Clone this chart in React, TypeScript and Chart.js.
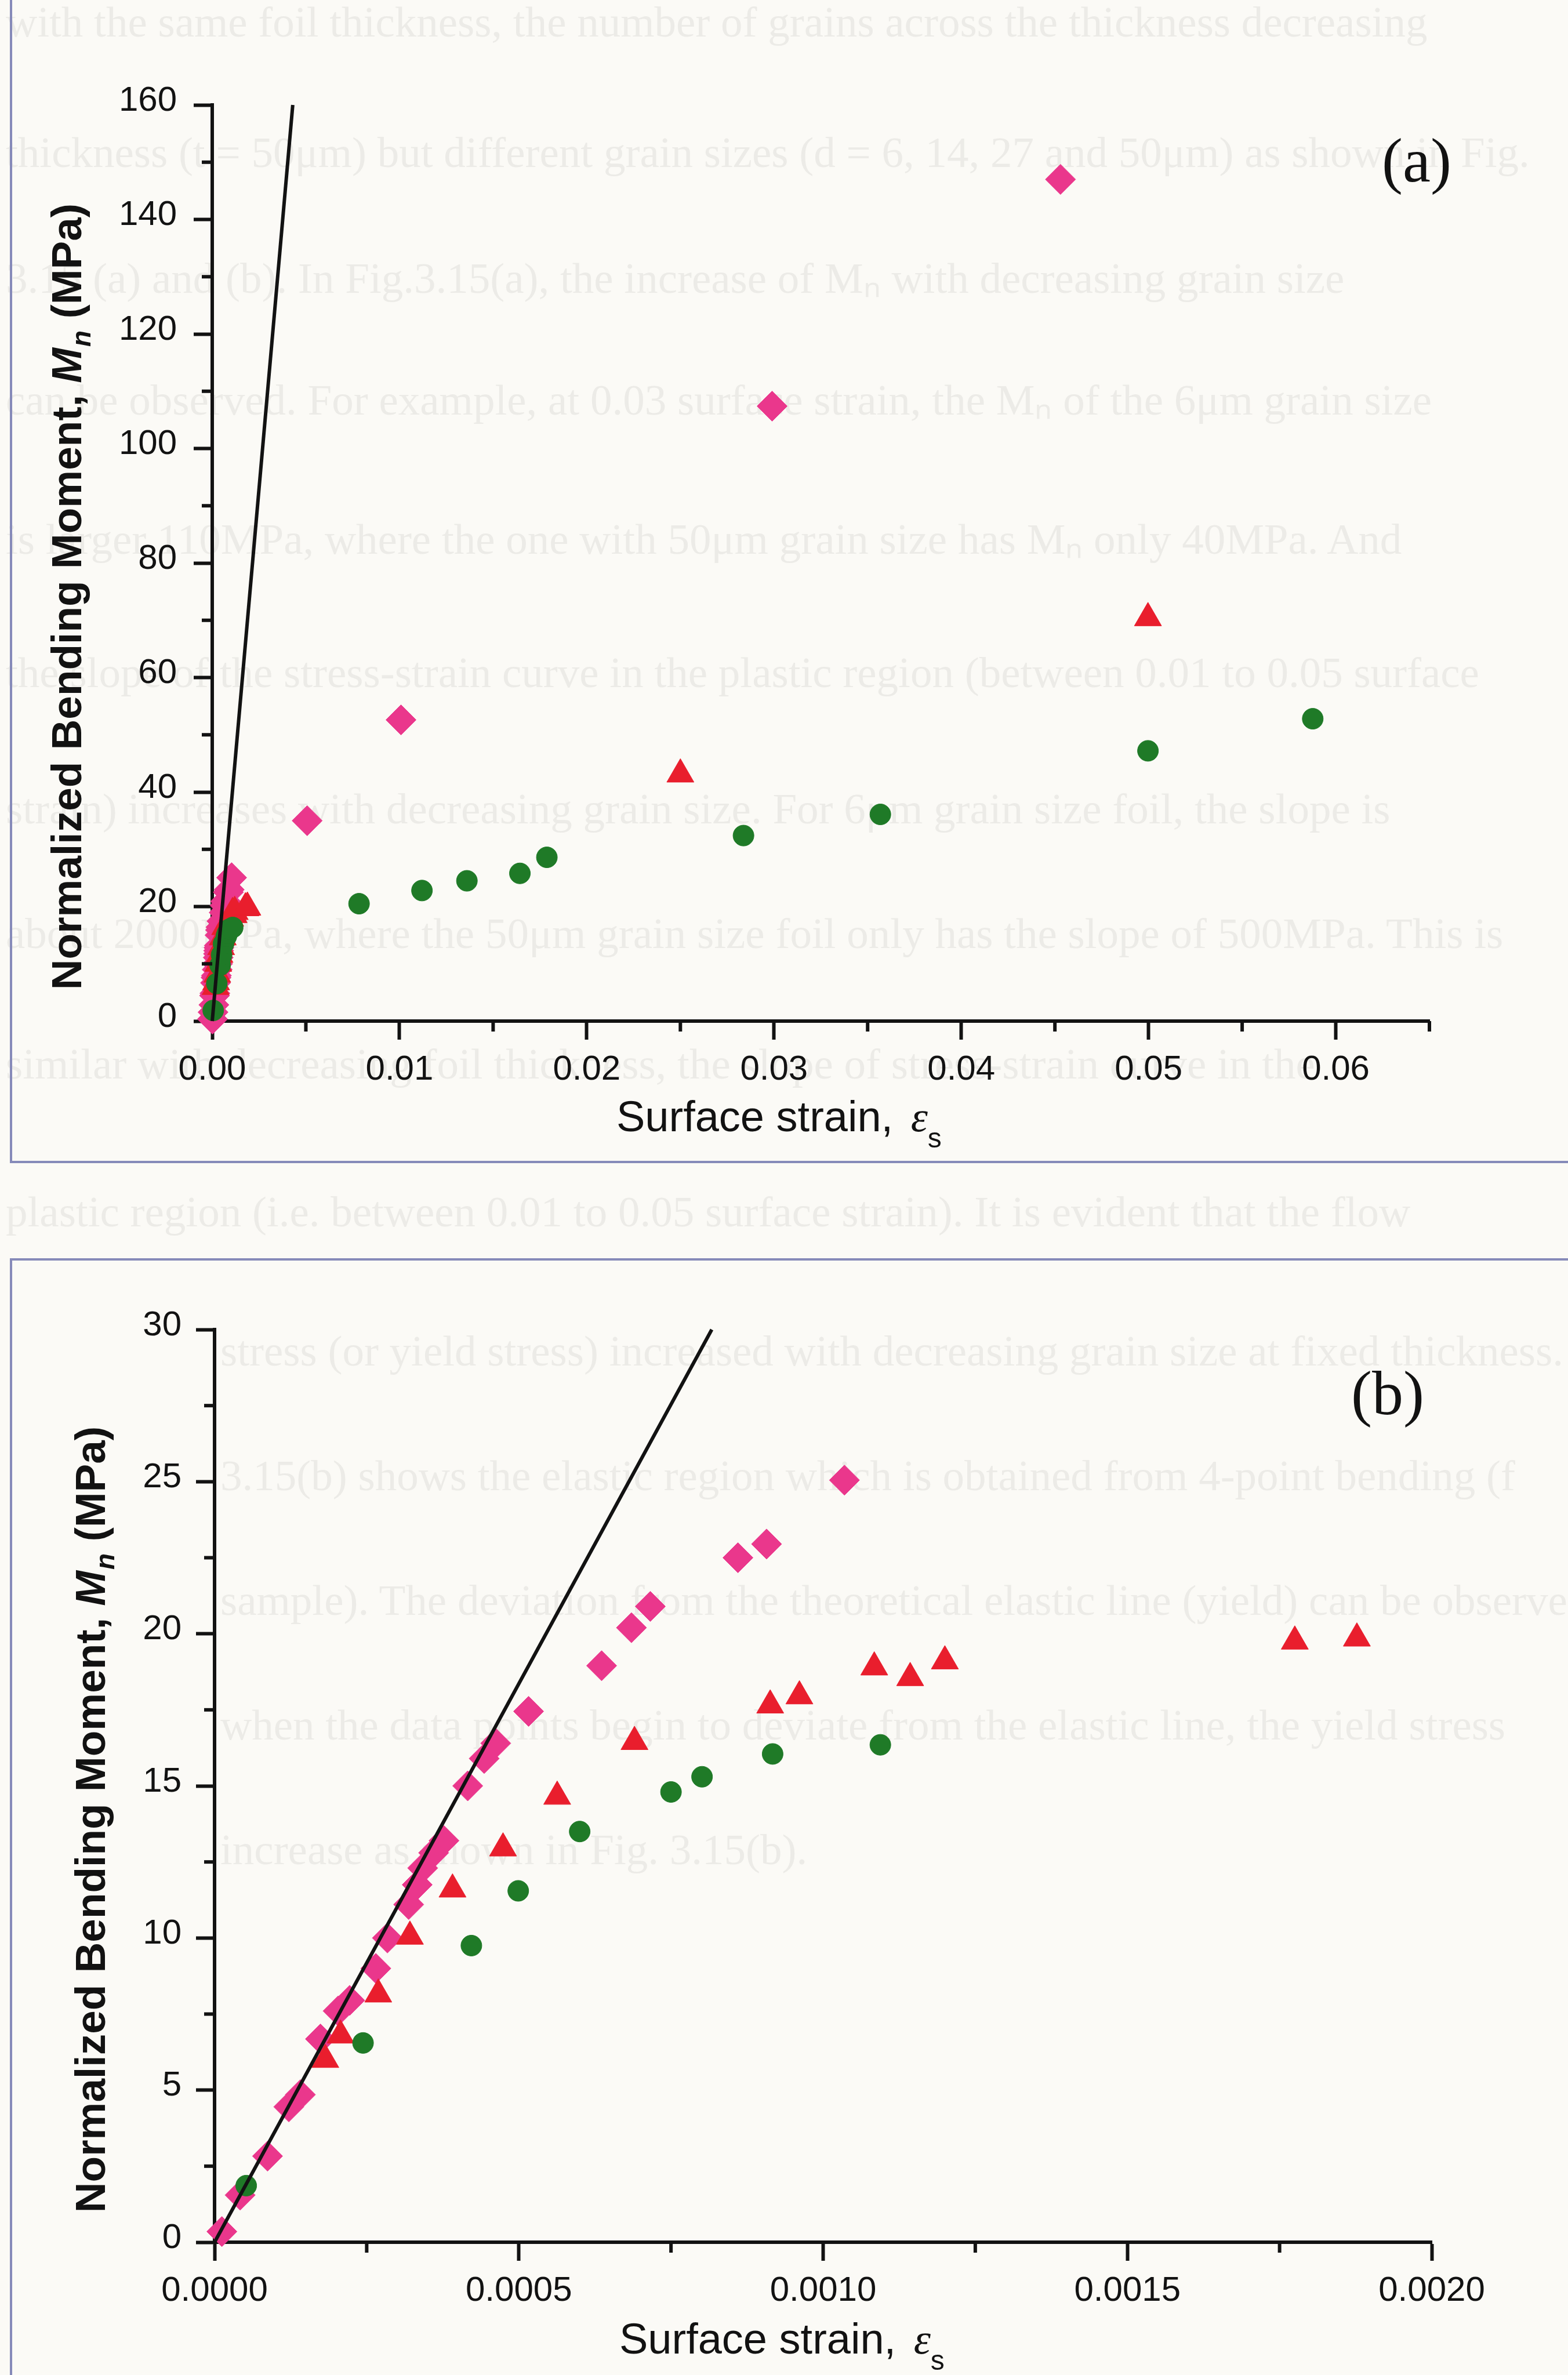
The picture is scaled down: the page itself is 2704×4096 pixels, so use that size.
import React, { useEffect, useRef } from 'react';
import { Chart, registerables } from 'chart.js';

Chart.register(...registerables);

// ---------------- data ----------------
// Panel (b) – small-strain data (also the low-strain part of panel (a))
const PINK_STRAIN_B = [0.000012, 0.000042, 0.000087, 0.000122, 0.000141, 0.000174, 0.000203, 0.000222, 0.000265, 0.000284, 0.000319, 0.000333, 0.000342, 0.00036, 0.000377, 0.000416, 0.000443, 0.000462, 0.000516, 0.000636, 0.000685, 0.000716, 0.00086, 0.000907, 0.001035];
const PINK_MOMENT_B = [0.35, 1.55, 2.83, 4.45, 4.85, 6.68, 7.6, 7.95, 9.0, 10.0, 11.1, 11.75, 12.3, 12.8, 13.2, 15.0, 15.9, 16.4, 17.45, 18.95, 20.2, 20.9, 22.5, 22.95, 25.05];

const RED_STRAIN_B = [0.000182, 0.000207, 0.000269, 0.000321, 0.000391, 0.000474, 0.000563, 0.00069, 0.000913, 0.000961, 0.001084, 0.001143, 0.0012, 0.001775, 0.001877];
const RED_MOMENT_B = [6.0, 6.8, 8.15, 10.05, 11.6, 12.95, 14.65, 16.45, 17.65, 17.95, 18.9, 18.55, 19.1, 19.75, 19.85];

const GREEN_STRAIN_B = [0.000052, 0.000244, 0.000422, 0.000499, 0.0006, 0.00075, 0.000801, 0.000917, 0.001094];
const GREEN_MOMENT_B = [1.86, 6.55, 9.75, 11.55, 13.5, 14.8, 15.3, 16.05, 16.35];

// Panel (a) – additional large-strain data
const PINK_STRAIN_A_EXTRA = [0.00507, 0.01008, 0.0299, 0.0453];
const PINK_MOMENT_A_EXTRA = [35.0, 52.6, 107.4, 147.0];
const RED_STRAIN_A_EXTRA = [0.025, 0.04997];
const RED_MOMENT_A_EXTRA = [43.1, 70.4];
const GREEN_STRAIN_A_EXTRA = [0.00784, 0.0112, 0.0136, 0.01643, 0.01787, 0.02837, 0.03568, 0.04997, 0.05877];
const GREEN_MOMENT_A_EXTRA = [20.5, 22.8, 24.5, 25.8, 28.6, 32.4, 36.1, 47.2, 52.8];

// Elastic lines
const ELASTIC_STRAIN_A = [0, 0.0043];
const ELASTIC_MOMENT_A = [0, 160];
const ELASTIC_STRAIN_B = [0, 0.000817];
const ELASTIC_MOMENT_B = [0, 30];

// Ticks
const X_TICKS_A = [0, 0.01, 0.02, 0.03, 0.04, 0.05, 0.06];
const X_LABELS_A = ['0.00', '0.01', '0.02', '0.03', '0.04', '0.05', '0.06'];
const X_MINOR_A = [0.005, 0.015, 0.025, 0.035, 0.045, 0.055, 0.065];
const Y_TICKS_A = [0, 20, 40, 60, 80, 100, 120, 140, 160];
const Y_LABELS_A = ['0', '20', '40', '60', '80', '100', '120', '140', '160'];
const Y_MINOR_A = [10, 30, 50, 70, 90, 110, 130, 150];

const X_TICKS_B = [0, 0.0005, 0.001, 0.0015, 0.002];
const X_LABELS_B = ['0.0000', '0.0005', '0.0010', '0.0015', '0.0020'];
const X_MINOR_B = [0.00025, 0.00075, 0.00125, 0.00175];
const Y_TICKS_B = [0, 5, 10, 15, 20, 25, 30];
const Y_LABELS_B = ['0', '5', '10', '15', '20', '25', '30'];
const Y_MINOR_B = [2.5, 7.5, 12.5, 17.5, 22.5, 27.5];

// Faint show-through text of the scanned page
const BLEED_LINES_A = [
  'with the same foil thickness, the number of grains across the thickness decreasing',
  'thickness (t = 50μm) but different grain sizes (d = 6, 14, 27 and 50μm) as shown in Fig.',
  '3.15 (a) and (b). In Fig.3.15(a), the increase of Mₙ with decreasing grain size',
  'can be observed. For example, at 0.03 surface strain, the Mₙ of the 6μm grain size',
  'is larger 110MPa, where the one with 50μm grain size has Mₙ only 40MPa. And',
  'the slope of the stress-strain curve in the plastic region (between 0.01 to 0.05 surface',
  'strain) increases with decreasing grain size. For 6μm grain size foil, the slope is',
  'about 2000MPa, where the 50μm grain size foil only has the slope of 500MPa. This is',
  'similar with decreasing foil thickness, the slope of stress-strain curve in the',
  'plastic region (i.e. between 0.01 to 0.05 surface strain). It is evident that the flow',
];
const BLEED_LINES_B = [
  'stress (or yield stress) increased with decreasing grain size at fixed thickness. Fig.',
  '3.15(b) shows the elastic region which is obtained from 4-point bending (f',
  'sample). The deviation from the theoretical elastic line (yield) can be observed',
  'when the data points begin to deviate from the elastic line, the yield stress',
  'increase as shown in Fig. 3.15(b).',
];

// ---------------- style ----------------
const W = 2704;
const H = 4096;
const BG = '#fbfaf6';
const PINK = '#ea378c';
const RED = '#e91e2d';
const GREEN = '#1f7a27';
const INK = '#121212';
const AXIS_W = 6;
const MAJOR_LEN = 32;
const MINOR_LEN = 18;
const SANS = "'Liberation Sans', Arial, Helvetica, sans-serif";
const SERIF = "'Liberation Serif', 'Times New Roman', serif";
const TICK_FONT_SIZE = 60;

type Run = { text: string; font: string; dy?: number; dx?: number };

const X_TITLE_RUNS: Run[] = [
  { text: 'Surface strain, ', font: `400 74px ${SANS}` },
  { text: 'ε', font: `italic 400 74px ${SERIF}`, dx: 10 },
  { text: 's', font: `400 48px ${SANS}`, dy: 28, dx: 0 },
];
const Y_TITLE_RUNS: Run[] = [
  { text: 'Normalized Bending Moment, ', font: `700 73px ${SANS}` },
  { text: 'M', font: `italic 700 73px ${SANS}` },
  { text: 'n', font: `italic 700 46px ${SANS}`, dy: 16, dx: 2 },
  { text: ' (MPa)', font: `700 73px ${SANS}` },
];

const pts = (xs: number[], ys: number[]) => xs.map((x, i) => ({ x, y: ys[i] }));

type Panel = {
  canvasH: number;
  area: { left: number; right: number; top: number; bottom: number };
  xMax: number;
  yMax: number;
  xTicks: number[];
  xLabels: string[];
  xMinor: number[];
  yTicks: number[];
  yLabels: string[];
  yMinor: number[];
  yLabelPad: number;
  pink: { x: number; y: number }[];
  red: { x: number; y: number }[];
  green: { x: number; y: number }[];
  line: { x: number; y: number }[];
  xTitle: { x: number; y: number };
  yTitle: { x: number; y: number };
  tag: { text: string; x: number; y: number };
};

const PANEL_A: Panel = {
  canvasH: 2100,
  area: { left: 366, right: 2465, top: 181, bottom: 1761 },
  xMax: 0.065,
  yMax: 160,
  xTicks: X_TICKS_A,
  xLabels: X_LABELS_A,
  xMinor: X_MINOR_A,
  yTicks: Y_TICKS_A,
  yLabels: Y_LABELS_A,
  yMinor: Y_MINOR_A,
  yLabelPad: 29,
  pink: pts(PINK_STRAIN_B.concat(PINK_STRAIN_A_EXTRA), PINK_MOMENT_B.concat(PINK_MOMENT_A_EXTRA)),
  red: pts(RED_STRAIN_B.concat(RED_STRAIN_A_EXTRA), RED_MOMENT_B.concat(RED_MOMENT_A_EXTRA)),
  green: pts(GREEN_STRAIN_B.concat(GREEN_STRAIN_A_EXTRA), GREEN_MOMENT_B.concat(GREEN_MOMENT_A_EXTRA)),
  line: pts(ELASTIC_STRAIN_A, ELASTIC_MOMENT_A),
  xTitle: { x: 1063, y: 1951 },
  yTitle: { x: 140, y: 1029 },
  tag: { text: '(a)', x: 2443, y: 313 },
};

const B_TOP = 2100;
const PANEL_B: Panel = {
  canvasH: H - B_TOP,
  area: { left: 370, right: 2469, top: 2293 - B_TOP, bottom: 3867 - B_TOP },
  xMax: 0.002,
  yMax: 30,
  xTicks: X_TICKS_B,
  xLabels: X_LABELS_B,
  xMinor: X_MINOR_B,
  yTicks: Y_TICKS_B,
  yLabels: Y_LABELS_B,
  yMinor: Y_MINOR_B,
  yLabelPad: 25,
  pink: pts(PINK_STRAIN_B, PINK_MOMENT_B),
  red: pts(RED_STRAIN_B, RED_MOMENT_B),
  green: pts(GREEN_STRAIN_B, GREEN_MOMENT_B),
  line: pts(ELASTIC_STRAIN_B, ELASTIC_MOMENT_B),
  xTitle: { x: 1068, y: 4059 - B_TOP },
  yTitle: { x: 181, y: 3138 - B_TOP },
  tag: { text: '(b)', x: 2393, y: 2439 - B_TOP },
};

function runsWidth(ctx: CanvasRenderingContext2D, runs: Run[]) {
  let w = 0;
  for (const r of runs) {
    ctx.font = r.font;
    w += ctx.measureText(r.text).width + (r.dx || 0);
  }
  return w;
}

function drawRuns(ctx: CanvasRenderingContext2D, runs: Run[], x: number, y: number) {
  let cx = x;
  for (const r of runs) {
    ctx.font = r.font;
    cx += r.dx || 0;
    ctx.fillText(r.text, cx, y + (r.dy || 0));
    cx += ctx.measureText(r.text).width;
  }
}

function makeDecor(p: Panel) {
  return {
    id: 'decor',
    afterDraw(chart: any) {
      const ctx: CanvasRenderingContext2D = chart.ctx;
      const xs = chart.scales.x;
      const ys = chart.scales.y;
      const { left, bottom } = chart.chartArea;
      ctx.save();
      ctx.strokeStyle = INK;
      ctx.lineWidth = AXIS_W;
      ctx.lineCap = 'butt';
      for (const v of p.xMinor) {
        const px = xs.getPixelForValue(v);
        ctx.beginPath();
        ctx.moveTo(px, bottom);
        ctx.lineTo(px, bottom + MINOR_LEN);
        ctx.stroke();
      }
      for (const v of p.yMinor) {
        const py = ys.getPixelForValue(v);
        ctx.beginPath();
        ctx.moveTo(left, py);
        ctx.lineTo(left - MINOR_LEN, py);
        ctx.stroke();
      }
      ctx.fillStyle = INK;
      ctx.textBaseline = 'alphabetic';
      ctx.textAlign = 'left';
      drawRuns(ctx, X_TITLE_RUNS, p.xTitle.x, p.xTitle.y);
      ctx.save();
      ctx.translate(p.yTitle.x, p.yTitle.y);
      ctx.rotate(-Math.PI / 2);
      const w = runsWidth(ctx, Y_TITLE_RUNS);
      drawRuns(ctx, Y_TITLE_RUNS, -w / 2, 0);
      ctx.restore();
      ctx.font = `400 108px ${SERIF}`;
      ctx.textAlign = 'center';
      ctx.fillText(p.tag.text, p.tag.x, p.tag.y);
      ctx.restore();
    },
  };
}

function buildConfig(p: Panel): any {
  const scatterBase = { showLine: false, clip: false, borderWidth: 1 };
  return {
    type: 'scatter',
    data: {
      datasets: [
        {
          label: 'elastic',
          data: p.line,
          showLine: true,
          pointRadius: 0,
          borderColor: INK,
          borderWidth: 6,
          clip: false,
          order: 0,
        },
        { ...scatterBase, label: 'green', data: p.green, pointStyle: 'circle', pointRadius: 18, pointHoverRadius: 18, backgroundColor: GREEN, borderColor: GREEN, order: 1 },
        { ...scatterBase, label: 'red', data: p.red, pointStyle: 'triangle', pointRadius: 27, pointHoverRadius: 27, backgroundColor: RED, borderColor: RED, order: 2 },
        { ...scatterBase, label: 'pink', data: p.pink, pointStyle: 'rectRot', pointRadius: 26, pointHoverRadius: 26, backgroundColor: PINK, borderColor: PINK, order: 3 },
      ],
    },
    options: {
      animation: false,
      responsive: false,
      devicePixelRatio: 1,
      events: [],
      layout: {
        padding: { left: 0, top: p.area.top, right: W - p.area.right, bottom: 0 },
      },
      plugins: {
        legend: { display: false },
        tooltip: { enabled: false },
        title: { display: false },
      },
      scales: {
        x: {
          type: 'linear',
          position: 'bottom',
          min: 0,
          max: p.xMax,
          z: 1,
          afterBuildTicks: (s: any) => {
            s.ticks = p.xTicks.map((v) => ({ value: v }));
          },
          afterFit: (s: any) => {
            s.height = p.canvasH - p.area.bottom;
          },
          border: { display: true, color: INK, width: AXIS_W },
          grid: {
            display: true,
            drawOnChartArea: false,
            drawTicks: true,
            tickLength: MAJOR_LEN,
            tickWidth: AXIS_W,
            tickColor: INK,
            color: INK,
          },
          ticks: {
            autoSkip: false,
            maxRotation: 0,
            minRotation: 0,
            padding: 16,
            color: INK,
            font: { family: SANS, size: TICK_FONT_SIZE, weight: '400' },
            callback: (_v: any, i: number) => p.xLabels[i],
          },
          title: { display: false },
        },
        y: {
          type: 'linear',
          position: 'left',
          min: 0,
          max: p.yMax,
          z: 1,
          afterBuildTicks: (s: any) => {
            s.ticks = p.yTicks.map((v) => ({ value: v }));
          },
          afterFit: (s: any) => {
            s.width = p.area.left;
          },
          border: { display: true, color: INK, width: AXIS_W },
          grid: {
            display: true,
            drawOnChartArea: false,
            drawTicks: true,
            tickLength: MAJOR_LEN,
            tickWidth: AXIS_W,
            tickColor: INK,
            color: INK,
          },
          ticks: {
            autoSkip: false,
            padding: p.yLabelPad,
            labelOffset: -7,
            color: INK,
            font: { family: SANS, size: TICK_FONT_SIZE, weight: '400' },
            callback: (_v: any, i: number) => p.yLabels[i],
          },
          title: { display: false },
        },
      },
    },
    plugins: [makeDecor(p)],
  };
}

const BLEED_TOPS_A = [38, 263, 480, 690, 930, 1160, 1395, 1610, 1835, 2090];
const BLEED_TOPS_B = [2330, 2545, 2760, 2975, 3190];

export default function App() {
  const refA = useRef<HTMLCanvasElement>(null);
  const refB = useRef<HTMLCanvasElement>(null);

  useEffect(() => {
    const a = new Chart(refA.current as HTMLCanvasElement, buildConfig(PANEL_A));
    const b = new Chart(refB.current as HTMLCanvasElement, buildConfig(PANEL_B));
    return () => {
      a.destroy();
      b.destroy();
    };
  }, []);

  const bleedStyle = (center: number, left: number): React.CSSProperties => ({
    position: 'absolute',
    left,
    top: center - 45,
    height: 90,
    lineHeight: '90px',
    fontFamily: SERIF,
    fontSize: 75,
    color: '#ecebe7',
    whiteSpace: 'nowrap',
  });

  return (
    <div style={{ position: 'absolute', left: 0, top: 0, width: W, height: H, background: BG, overflow: 'hidden' }}>
      {BLEED_LINES_A.map((t, i) => (
        <div key={'a' + i} style={bleedStyle(BLEED_TOPS_A[i], 10)}>{t}</div>
      ))}
      {BLEED_LINES_B.map((t, i) => (
        <div key={'b' + i} style={bleedStyle(BLEED_TOPS_B[i], 380)}>{t}</div>
      ))}
      <div style={{ position: 'absolute', left: 17, top: -10, width: W, height: 2006 + 10, borderLeft: '4px solid #868ab9', borderBottom: '4px solid #868ab9', boxSizing: 'border-box' }} />
      <div style={{ position: 'absolute', left: 17, top: 2170, width: W, height: H, borderLeft: '4px solid #868ab9', borderTop: '4px solid #868ab9', boxSizing: 'border-box' }} />
      <canvas ref={refA} width={W} height={PANEL_A.canvasH} style={{ position: 'absolute', left: 0, top: 0, width: W, height: PANEL_A.canvasH }} />
      <canvas ref={refB} width={W} height={PANEL_B.canvasH} style={{ position: 'absolute', left: 0, top: B_TOP, width: W, height: PANEL_B.canvasH }} />
    </div>
  );
}
